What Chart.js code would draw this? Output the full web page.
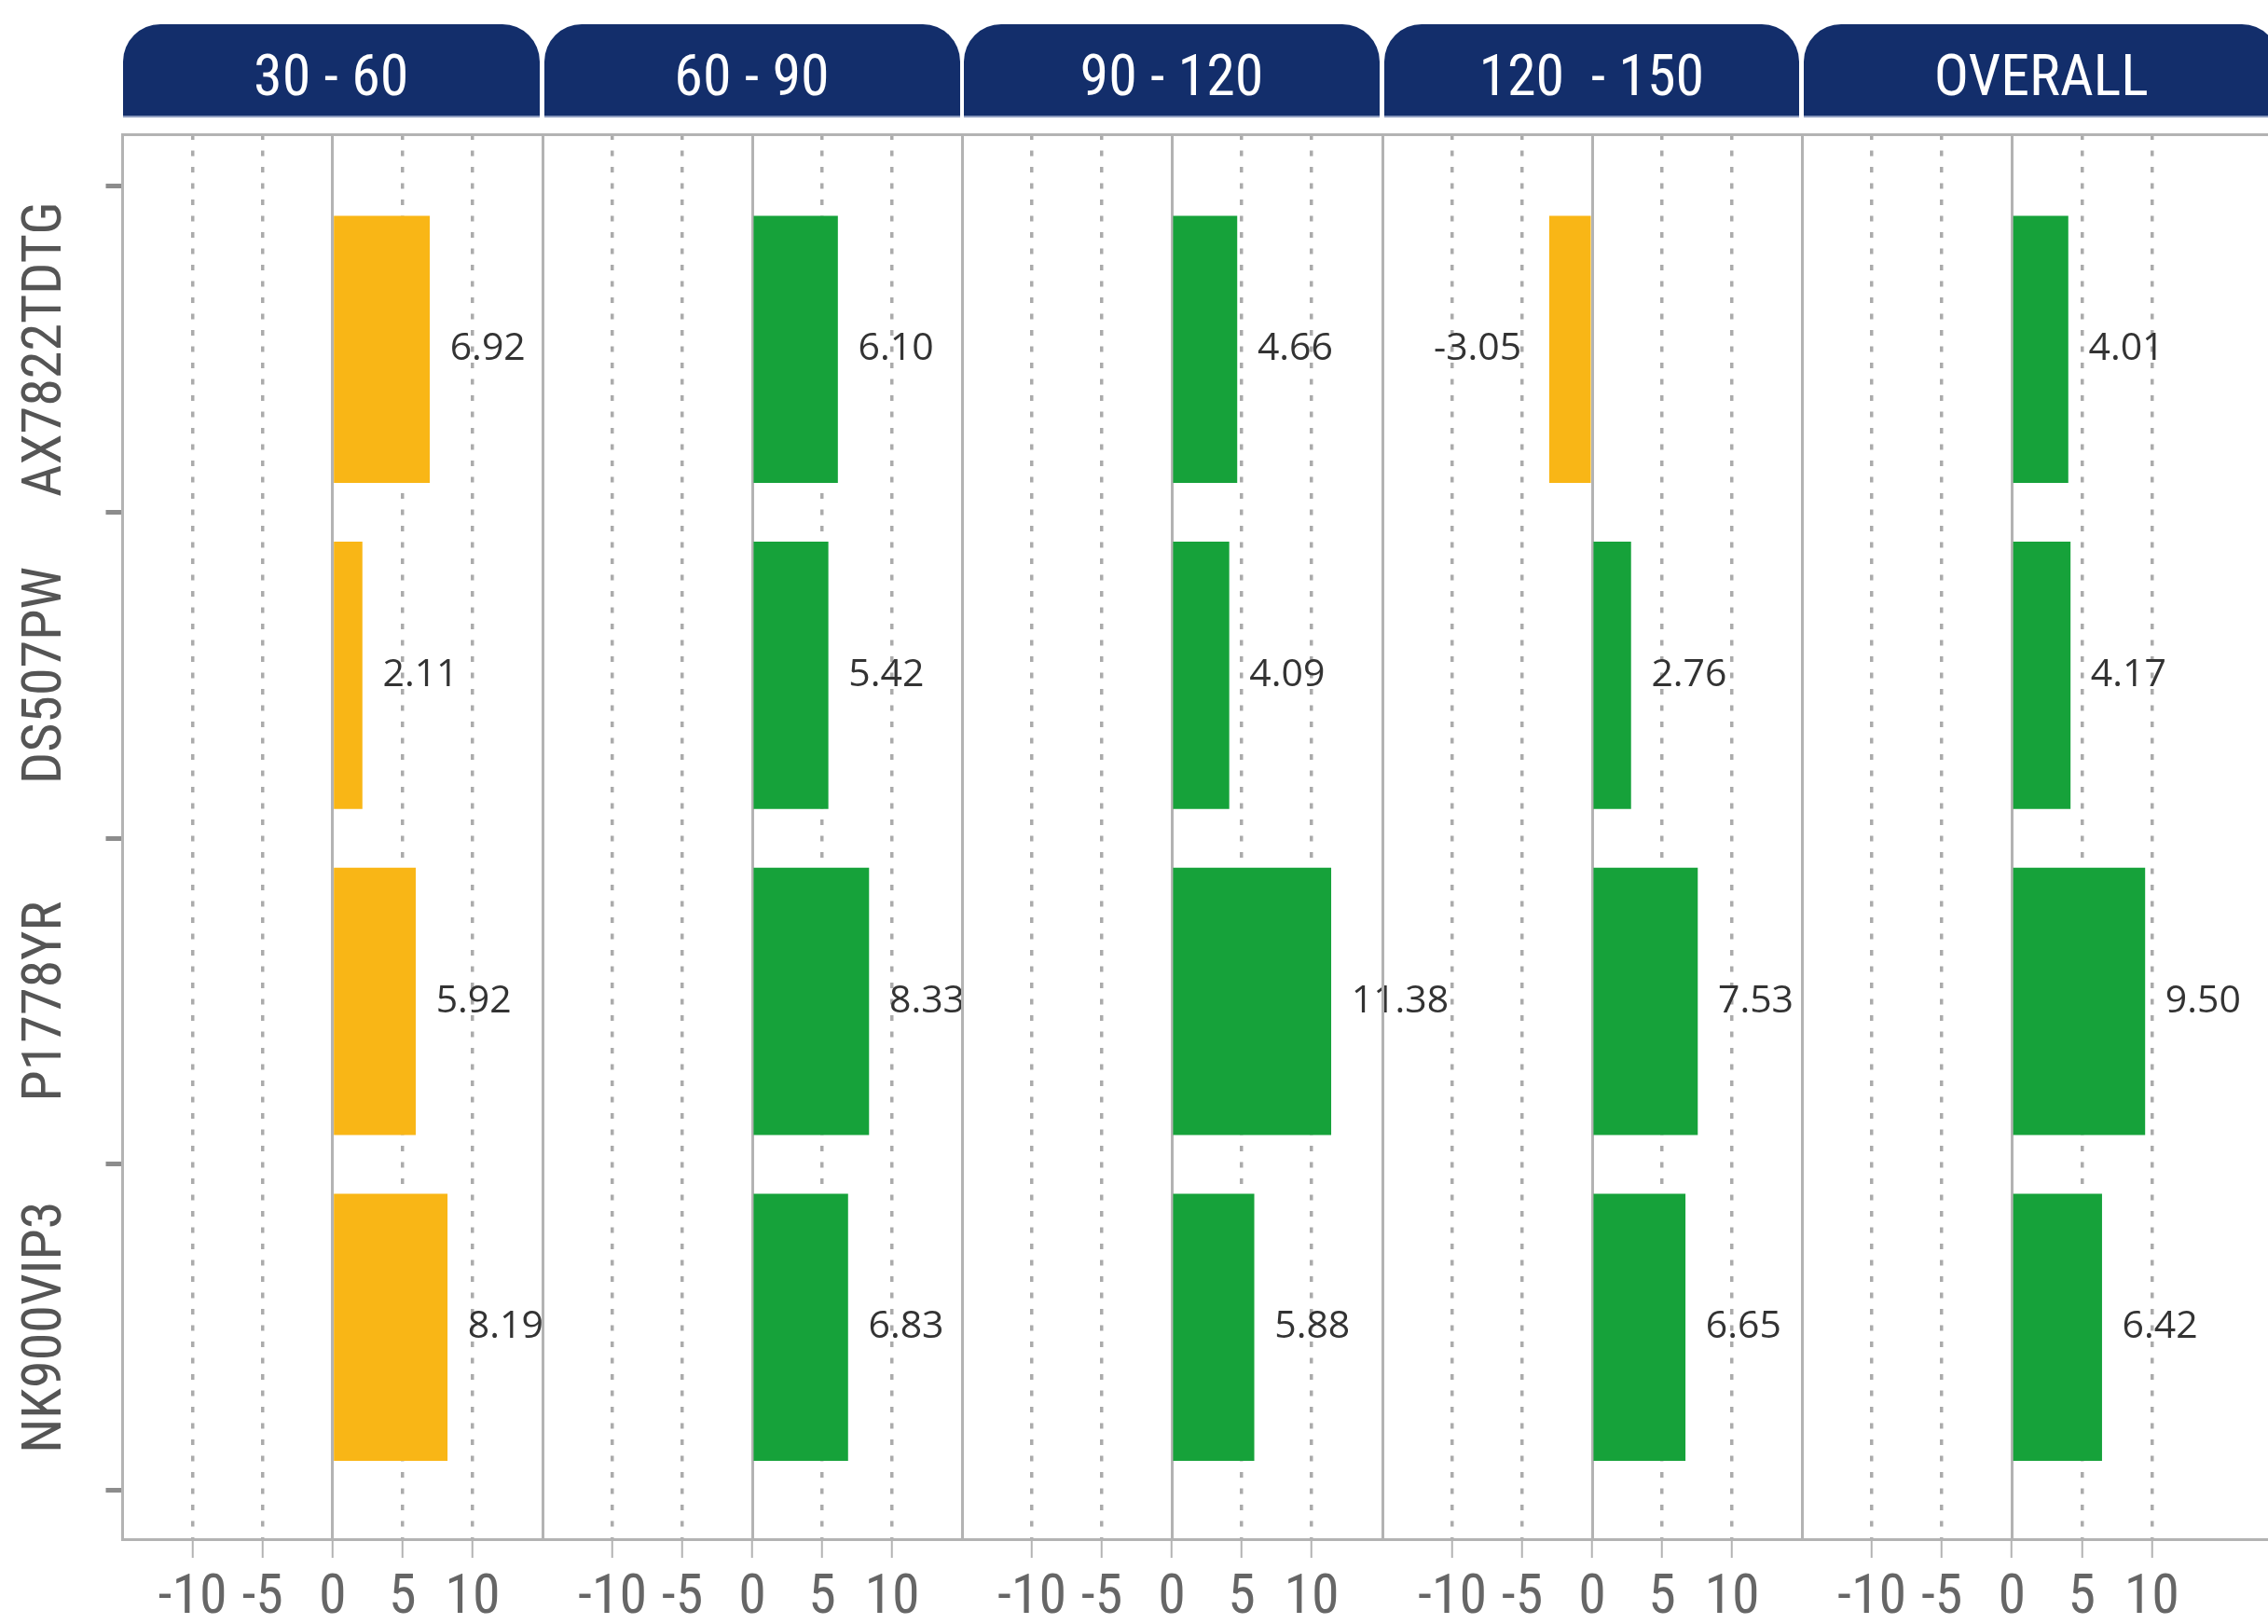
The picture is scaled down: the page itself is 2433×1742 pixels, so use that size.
<!DOCTYPE html>
<html>
<head>
<meta charset="utf-8">
<script src="https://cdn.jsdelivr.net/npm/chart.js@4.4.1/dist/chart.umd.min.js"></script>
<style>
html, body { margin: 0; padding: 0; background: #ffffff; width: 2433px; height: 1742px; overflow: hidden; position: relative; }
.tab { position: absolute; top: 26px; height: 100px; box-sizing: border-box; background: #132e6b; border-radius: 40px 40px 0 0; border-bottom: 2px solid #8a99bd; color: #ffffff; font: 400 62px "Roboto Condensed", sans-serif; display: flex; align-items: center; justify-content: center; white-space: pre; padding-top: 10px; }
canvas { position: absolute; }
</style>
</head>
<body>
<script>
// ---------- data ----------
const categories = ['AX7822TDTG', 'DS507PW', 'P1778YR', 'NK900VIP3'];
const panelTitles = ['30 - 60', '60 - 90', '90 - 120', '120  - 150', 'OVERALL'];
const values_30_60   = [6.92, 2.11, 5.92, 8.19];
const values_60_90   = [6.10, 5.42, 8.33, 6.83];
const values_90_120  = [4.66, 4.09, 11.38, 5.88];
const values_120_150 = [-3.05, 2.76, 7.53, 6.65];
const values_overall = [4.01, 4.17, 9.50, 6.42];
const xTickValues = [-10, -5, 0, 5, 10];
const panelValues = [values_30_60, values_60_90, values_90_120, values_120_150, values_overall];

// ---------- style / layout ----------
const YELLOW = '#f9b616';
const GREEN = '#16a23a';
const GRID = '#b3b3b3';
const DOT = '#ababab';
const COND = '"Roboto Condensed", "Liberation Sans Narrow", sans-serif';
const PAGE_W = 2433, PAGE_H = 1742;
const PLOT_TOP = 144, PLOT_BOTTOM = 1651;
const panelLeft = [131.5, 581.5, 1032, 1482.5, 1932.5];
const PANEL_W = 450;
const X_MIN = -15, X_MAX = 15;
const Y_MIN = -0.66, Y_MAX = 3.65;
const Y_LABEL_SIZE = 60;
const X_LABEL_SIZE = 60;
const Y_LABEL_CENTER_X = 50;
const Y_TICK_LEN = 18;

// headers
panelTitles.forEach((t, i) => {
  const d = document.createElement('div');
  d.className = 'tab';
  const left = panelLeft[i] + (i === 0 ? 0 : 2);
  const right = i < panelLeft.length - 1 ? panelLeft[i + 1] - 2.5 : PAGE_W + 12;
  d.style.left = left + 'px';
  d.style.width = (right - left) + 'px';
  d.textContent = t;
  document.body.appendChild(d);
});

// measure widest category label (for centring rotated labels)
const mctx = document.createElement('canvas').getContext('2d');
mctx.font = 'normal ' + Y_LABEL_SIZE + 'px ' + COND;
const widestLabel = Math.max(...categories.map(c => mctx.measureText(c).width));

const valueLabels = {
  id: 'valueLabels',
  afterDatasetsDraw(chart) {
    const ctx = chart.ctx;
    const data = chart.data.datasets[0].data;
    const meta = chart.getDatasetMeta(0);
    ctx.save();
    ctx.font = '41px "Open Sans", "Noto Sans", sans-serif';
    ctx.fillStyle = '#333333';
    ctx.textBaseline = 'middle';
    meta.data.forEach((bar, k) => {
      const v = data[k].x;
      const txt = v.toFixed(2);
      if (v >= 0) { ctx.textAlign = 'left'; ctx.fillText(txt, bar.x + 22, bar.y); }
      else { ctx.textAlign = 'right'; ctx.fillText(txt, bar.x - 30, bar.y); }
    });
    ctx.restore();
  }
};

const CANVAS_TOP = 134;
panelValues.forEach((vals, i) => {
  const last = i === panelValues.length - 1;
  const canvasLeft = i === 0 ? 0 : panelLeft[i] - 12;
  const yAxisW = panelLeft[i] - canvasLeft;
  const plotRight = last ? PAGE_W : panelLeft[i] + PANEL_W;
  const padRight = last ? 0 : 170;
  const xMax = last ? X_MAX + (PAGE_W - (panelLeft[i] + PANEL_W)) / (PANEL_W / (X_MAX - X_MIN)) : X_MAX;
  const cw = Math.round(plotRight + padRight - canvasLeft);
  const ch = PAGE_H - CANVAS_TOP;
  const cv = document.createElement('canvas');
  cv.width = cw; cv.height = ch;
  cv.style.left = canvasLeft + 'px'; cv.style.top = CANVAS_TOP + 'px';
  cv.style.width = cw + 'px'; cv.style.height = ch + 'px';
  document.body.appendChild(cv);

  const yScale = {
    type: 'linear', position: 'left', reverse: true, min: Y_MIN, max: Y_MAX,
    offset: false,
    afterFit: s => { s.width = yAxisW; },
    border: { display: true, color: GRID, width: 3 }
  };
  if (i === 0) {
    yScale.afterBuildTicks = s => {
      const t = [];
      for (let k = 0; k <= categories.length * 2; k++) t.push({ value: -0.5 + k * 0.5 });
      s.ticks = t;
    };
    yScale.grid = {
      display: true, offset: false, drawOnChartArea: false, drawTicks: true, tickLength: Y_TICK_LEN, tickWidth: 5,
      tickColor: c => (c.tick && Math.abs(c.tick.value - Math.round(c.tick.value)) > 0.1) ? '#8c8c8c' : 'rgba(0,0,0,0)'
    };
    yScale.ticks = {
      display: true, autoSkip: false, minRotation: 90, maxRotation: 90, crossAlign: 'center',
      padding: yAxisW - Y_TICK_LEN - Y_LABEL_CENTER_X - widestLabel / 2,
      color: '#555555', font: { family: COND, size: Y_LABEL_SIZE },
      callback: v => { const k = Math.round(v); return Math.abs(v - k) < 1e-6 ? categories[k] : ''; }
    };
  } else {
    yScale.grid = { display: false, offset: false };
    yScale.ticks = { display: false };
  }

  new Chart(cv, {
    type: 'bar',
    data: {
      datasets: [{
        data: vals.map((v, k) => ({ x: v, y: k })),
        backgroundColor: vals.map(v => (i === 0 || v < 0) ? YELLOW : GREEN),
        borderWidth: 0,
        barThickness: 286,
        xAxisID: 'x', yAxisID: 'y'
      }]
    },
    options: {
      indexAxis: 'y',
      responsive: false, maintainAspectRatio: false, animation: false, devicePixelRatio: 1,
      layout: { padding: { top: PLOT_TOP - CANVAS_TOP, right: padRight, left: 0, bottom: 0 } },
      plugins: { legend: { display: false }, tooltip: { enabled: false } },
      scales: {
        y: yScale,
        x: {
          type: 'linear', position: 'bottom', min: X_MIN, max: xMax, offset: false,
          afterBuildTicks: s => { s.ticks = xTickValues.map(v => ({ value: v })); },
          afterFit: s => { s.height = PAGE_H - PLOT_BOTTOM; },
          grid: {
            display: true, offset: false, drawOnChartArea: true, drawTicks: true, tickLength: 20, tickWidth: 2, tickColor: GRID,
            lineWidth: 3.5,
            color: c => (c.tick && c.tick.value === 0) ? 'rgba(0,0,0,0)' : DOT
          },
          border: { display: true, color: GRID, width: 3, dash: [6, 11.5] },
          ticks: { autoSkip: false, maxRotation: 0, padding: 8, color: '#666666', font: { family: COND, size: X_LABEL_SIZE } }
        },
        x2: {
          type: 'linear', position: 'top', min: X_MIN, max: xMax, offset: false,
          afterBuildTicks: s => { s.ticks = [{ value: 0 }]; },
          afterFit: s => { s.height = 0; },
          grid: { display: true, offset: false, drawTicks: false, lineWidth: 3, color: GRID },
          border: { display: true, color: GRID, width: 3 },
          ticks: { display: false }
        }
      }
    },
    plugins: [valueLabels]
  });
});
</script>
</body>
</html>
